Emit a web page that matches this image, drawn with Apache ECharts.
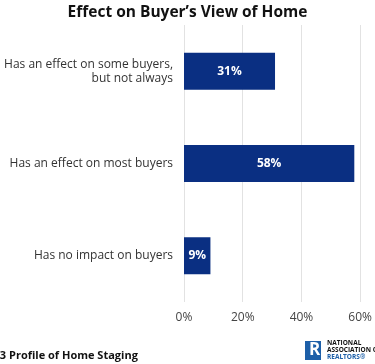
<!DOCTYPE html>
<html><head><meta charset="utf-8">
<script src="https://cdn.jsdelivr.net/npm/echarts@6/dist/echarts.min.js"></script>
<style>html,body{margin:0;padding:0;background:#fff}#c{width:375px;height:364px}</style>
</head><body><div id="c"></div>
<script>
const categories = ["Has an effect on some buyers,\nbut not always", "Has an effect on most buyers", "Has no impact on buyers"];
const values = [31, 58, 9];
const xTicks = [0, 20, 40, 60];
const titleText = "Effect on Buyer\u2019s View of Home";
const sourceText = "2023 Profile of Home Staging";
const FONT = "'Open Sans', 'Noto Sans', sans-serif";
const chart = echarts.init(document.getElementById('c'), null, {renderer: 'canvas'});
chart.setOption({
  animation: false,
  title: {text: titleText, left: 'center', top: 0,
    textStyle: {fontFamily: FONT, fontWeight: 'bold', fontSize: 15.5, color: '#111'}},
  grid: {left: 184, right: 11.5, top: 25, bottom: 62, containLabel: false},
  xAxis: {type: 'value', min: 0, max: 60, interval: 20,
    axisLine: {show: false}, axisTick: {show: false},
    splitLine: {show: true, lineStyle: {color: '#e2e2e2', width: 1}},
    axisLabel: {formatter: v => v + '%', color: '#444', fontFamily: FONT, fontSize: 12, margin: 10}},
  yAxis: {type: 'category', inverse: true, data: categories,
    axisLine: {show: false}, axisTick: {show: false},
    axisLabel: {color: '#333', fontFamily: FONT, fontSize: 12, margin: 11, lineHeight: 14, align: 'right'}},
  series: [{type: 'bar', data: values, barWidth: 37,
    itemStyle: {color: '#0a2f82'},
    label: {show: true, position: 'inside', formatter: p => p.value + '%',
      color: '#fff', fontFamily: FONT, fontWeight: 'bold', fontSize: 12}}],
  graphic: [
    {type: 'text', left: -19, top: 350, style: {text: sourceText, fontFamily: FONT, fontWeight: 'bold', fontSize: 11, fill: '#111'}},
    {type: 'rect', shape: {x: 305, y: 341, width: 16, height: 19}, style: {fill: '#1d5fa8'}},
    {type: 'text', x: 309, y: 342, style: {text: 'R', fontFamily: FONT, fontWeight: 'bold', fontSize: 17, fill: '#fff'}},
    {type: 'text', x: 327, y: 340, style: {text: 'NATIONAL', fontFamily: FONT, fontWeight: 'bold', fontSize: 6.5, fill: '#111'}},
    {type: 'text', x: 327, y: 347, style: {text: 'ASSOCIATION OF', fontFamily: FONT, fontWeight: 'bold', fontSize: 6.5, fill: '#111'}},
    {type: 'text', x: 327, y: 354, style: {text: 'REALTORS\u00ae', fontFamily: FONT, fontWeight: 'bold', fontSize: 6.5, fill: '#1d5fa8'}}
  ]
});
</script></body></html>
